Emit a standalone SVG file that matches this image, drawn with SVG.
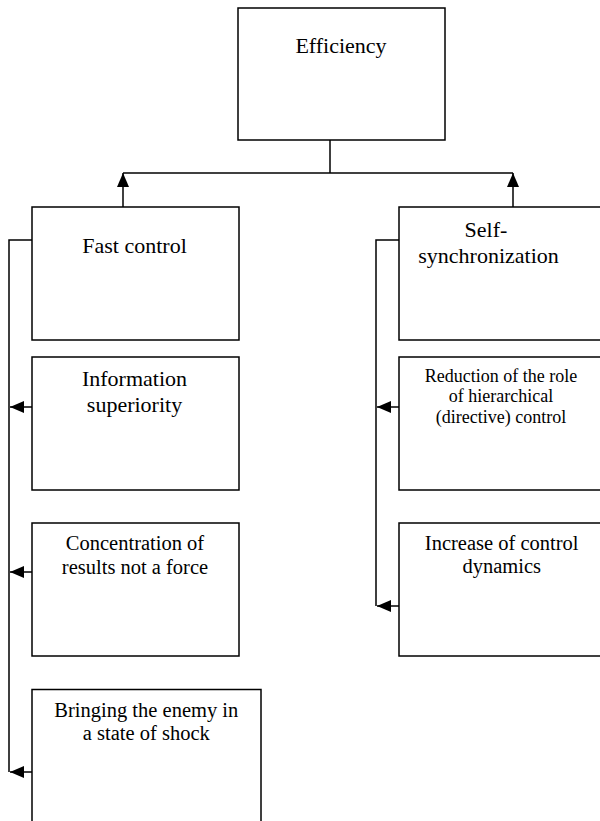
<svg xmlns="http://www.w3.org/2000/svg" width="600" height="821" viewBox="0 0 600 821">
<defs>
<style>
.box{fill:#fff;stroke:#000;stroke-width:1.5}
.ln{fill:none;stroke:#000;stroke-width:1.5}
text{font-family:"Liberation Serif","Times New Roman",serif;fill:#000;text-anchor:middle}
.t22{font-size:22px}
.t20{font-size:20.5px}
.t18{font-size:18px}
</style>
<marker id="ah" viewBox="0 0 14 12" refX="14" refY="6" markerWidth="14" markerHeight="12" markerUnits="userSpaceOnUse" orient="auto">
<path d="M0,0 L14,6 L0,12 Z" fill="#000"/>
</marker>
</defs>
<rect width="600" height="821" fill="#fff"/>
<g id="connectors">
<polyline class="ln" points="330,140 330,173"/>
<line class="ln" x1="123" y1="173" x2="513" y2="173"/>
<line class="ln" x1="123" y1="207" x2="123" y2="173" marker-end="url(#ah)"/>
<line class="ln" x1="513" y1="207" x2="513" y2="173" marker-end="url(#ah)"/>
<polyline class="ln" points="32,240 9,240 9,772"/>
<line class="ln" x1="32" y1="407" x2="10" y2="407" marker-end="url(#ah)"/>
<line class="ln" x1="32" y1="572" x2="10" y2="572" marker-end="url(#ah)"/>
<line class="ln" x1="32" y1="772" x2="10" y2="772" marker-end="url(#ah)"/>
<polyline class="ln" points="399,240 376,240 376,606"/>
<line class="ln" x1="399" y1="407" x2="377" y2="407" marker-end="url(#ah)"/>
<line class="ln" x1="399" y1="606" x2="377" y2="606" marker-end="url(#ah)"/>
</g>
<g id="efficiency">
<rect class="box" x="238" y="8" width="207" height="132"/>
<text class="t22" x="341" y="53">Efficiency</text>
</g>
<g id="fast-control">
<rect class="box" x="32" y="207" width="207" height="133"/>
<text class="t22" x="134.5" y="253">Fast control</text>
</g>
<g id="information-superiority">
<rect class="box" x="32" y="357" width="207" height="133"/>
<text class="t22" x="134.5" y="386">Information</text>
<text class="t22" x="134.5" y="411.5">superiority</text>
</g>
<g id="concentration">
<rect class="box" x="32" y="523" width="207" height="133"/>
<text class="t20" x="135" y="550">Concentration of</text>
<text class="t20" x="135" y="574">results not a force</text>
</g>
<g id="shock">
<rect class="box" x="32" y="689.5" width="229" height="150"/>
<text class="t20" x="146.3" y="716.5">Bringing the enemy in</text>
<text class="t20" x="146.3" y="740">a state of shock</text>
</g>
<g id="self-synchronization">
<rect class="box" x="399" y="207" width="230" height="133"/>
<text class="t22" x="486" y="236.5">Self-</text>
<text class="t22" x="488.5" y="262.5">synchronization</text>
</g>
<g id="reduction">
<rect class="box" x="399" y="357" width="230" height="133"/>
<text class="t18" x="501" y="382.3">Reduction of the role</text>
<text class="t18" x="501" y="402.3">of hierarchical</text>
<text class="t18" x="501" y="422.7">(directive) control</text>
</g>
<g id="increase">
<rect class="box" x="399" y="523" width="230" height="133"/>
<text class="t20" x="501.7" y="550">Increase of control</text>
<text class="t20" x="501.7" y="573.3">dynamics</text>
</g>
</svg>
